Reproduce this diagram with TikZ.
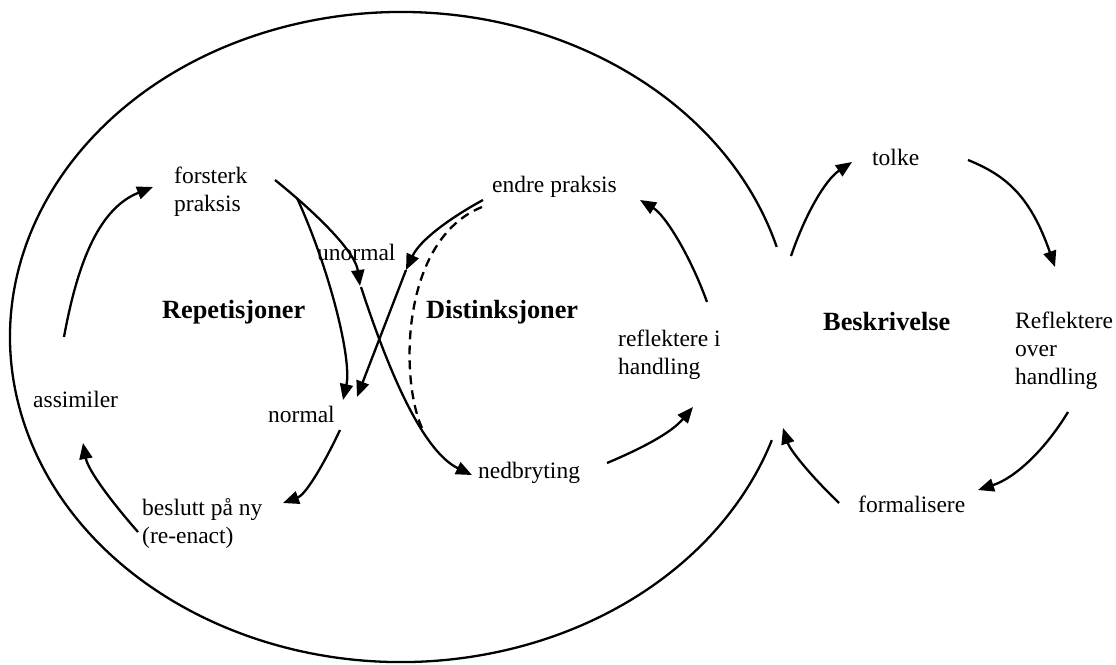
\documentclass[tikz,border=0pt]{standalone}
\usepackage{fontspec}
\setmainfont{Liberation Serif}
\usetikzlibrary{arrows.meta}
\newcommand\mlines[1]{\begin{tabular}[t]{@{}l@{}}#1\end{tabular}}
\tikzset{
 txt/.style={anchor=base west, inner sep=0pt, font=\fontsize{23.5}{28.3}\selectfont},
 ttl/.style={anchor=base west, inner sep=0pt, font=\fontsize{26.3}{30}\selectfont\bfseries},
 conn/.style={line width=2.3pt, -{Triangle[length=16pt,width=13pt]}},
 plain/.style={line width=2.3pt},
 dsh/.style={line width=2.3pt, dash pattern=on 9pt off 6pt},
}
\begin{document}
\begin{tikzpicture}[x=1pt,y=-1pt]
\useasboundingbox (0,0) rectangle (1116,664);
% big open ellipse
\draw[plain] (776.7,246.9) arc[start angle=16.1,end angle=341.5,x radius=391pt,y radius=325pt];
% texts
\node[txt] (fp) at (174,183) {\mlines{forsterk\\praksis}};
\node[ttl] (rep) at (162,318) {Repetisjoner};
\node[txt] (ass) at (33,407) {assimiler};
\node[txt] (bes) at (142,515) {\mlines{beslutt på ny\\(re-enact)}};
\node[txt] (nor) at (268,422) {normal};
\node[txt] (uno) at (317,260) {unormal};
\node[ttl] (dis) at (426,318) {Distinksjoner};
\node[txt] (end) at (492,192) {endre praksis};
\node[txt] (ref) at (618,346) {\mlines{reflektere i\\handling}};
\node[txt] (ned) at (478,478) {nedbryting};
\node[txt] (tol) at (872,165) {tolke};
\node[ttl] (besk) at (823,330) {Beskrivelse};
\node[txt] (rov) at (1015,328) {\mlines{Reflektere\\over\\handling}};
\node[txt] (form) at (858,512) {formalisere};
% connectors
\draw[conn] ([shift={(31,-70)}]ass.base west) .. controls (78,260) and (100,208) .. ([shift={(-21,4)}]fp.base west);
\draw[conn] ([shift={(-4,17)}]bes.base west) .. controls (110,500) and (88,470) .. ([shift={(50,36)}]ass.base west);
\draw[conn] ([shift={(72,8)}]nor.base west) .. controls (322,468) and (305,495) .. ([shift={(141,-12)}]bes.base west);
\draw[conn] ([shift={(101,-3)}]fp.base west) .. controls (310,208) and (355,250) .. ([shift={(43,26)}]uno.base west);
\draw[conn] ([shift={(44,27)}]uno.base west) .. controls (385,360) and (420,450) .. ([shift={(-6,-3)}]ned.base west);
\draw[conn] ([shift={(123,15)}]fp.base west) .. controls (330,270) and (352,360) .. ([shift={(75,-22)}]nor.base west);
\draw[conn] ([shift={(-9,8)}]end.base west) .. controls (450,218) and (420,240) .. ([shift={(89,10)}]uno.base west);
\draw[conn] ([shift={(89,10)}]uno.base west) -- ([shift={(89,-25)}]nor.base west);
\draw[dsh] ([shift={(-10,15)}]end.base west) .. controls (400,240) and (400,380) .. ([shift={(-56,-50)}]ned.base west);
\draw[conn] ([shift={(129,-15)}]ned.base west) .. controls (645,447) and (672,432) .. ([shift={(75,61)}]ref.base west);
\draw[conn] ([shift={(89,-44)}]ref.base west) .. controls (690,255) and (665,215) .. ([shift={(148,8)}]end.base west);
\draw[conn] ([shift={(-32,-74)}]besk.base west) .. controls (805,215) and (825,180) .. ([shift={(-20,-3)}]tol.base west);
\draw[conn] ([shift={(96,-5)}]tol.base west) .. controls (1005,175) and (1030,195) .. ([shift={(40,-61)}]rov.base west);
\draw[conn] ([shift={(53,84)}]rov.base west) .. controls (1045,450) and (1015,478) .. ([shift={(120,-22)}]form.base west);
\draw[conn] ([shift={(-19,-9)}]form.base west) .. controls (810,475) and (790,450) .. ([shift={(-40,98)}]besk.base west);
\end{tikzpicture}
\end{document}
